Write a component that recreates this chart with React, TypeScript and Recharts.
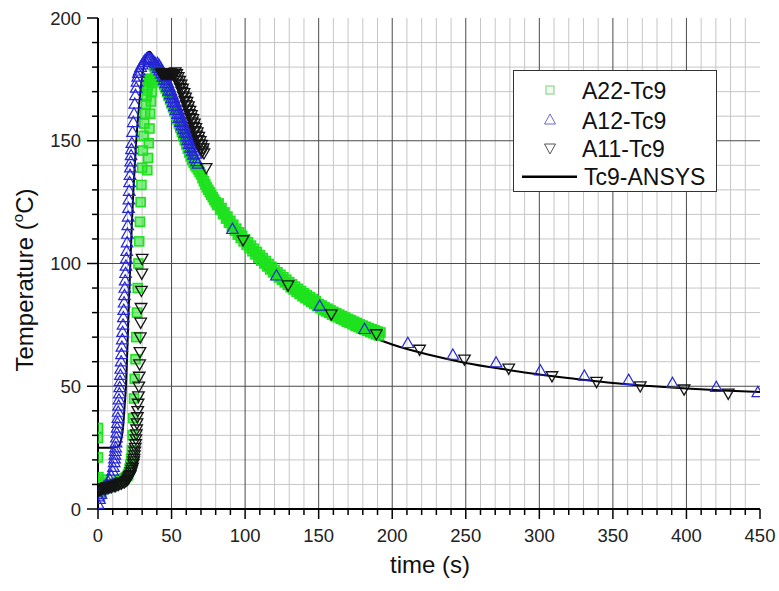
import React from 'react';
import { ComposedChart, XAxis, YAxis, CartesianGrid, Scatter, Line } from 'recharts';

// ---------- tick values ----------
const xTicks = [0, 10, 20, 30, 40, 50, 60, 70, 80, 90, 100, 110, 120, 130, 140, 150, 160, 170, 180, 190, 200, 210, 220, 230, 240, 250, 260, 270, 280, 290, 300, 310, 320, 330, 340, 350, 360, 370, 380, 390, 400, 410, 420, 430, 440, 450];
const yTicks = [0, 10, 20, 30, 40, 50, 60, 70, 80, 90, 100, 110, 120, 130, 140, 150, 160, 170, 180, 190, 200];
const majorX = [50, 100, 150, 200, 250, 300, 350, 400];
const majorY = [50, 100, 150];
const minorX = xTicks.filter((v) => v % 50 !== 0);
const minorY = yTicks.filter((v) => v % 50 !== 0);

// ---------- series: [time (s), temperature (°C)] ----------
const ansys: number[][] = [
  [0, 25], [5, 25], [10, 25], [13, 25.3], [15, 26.5], [16, 29], [17, 33], [18, 41], [19, 50], [20, 66], [21, 84], [22, 100],
  [23, 116], [24, 129], [25, 140], [26, 150], [27, 158], [28, 165], [29, 171], [30, 176], [31, 180], [32, 183], [33, 185],
  [34, 186], [35, 186.3], [36, 185.8], [38, 183.5], [40, 180], [45, 172], [50, 164], [55, 156], [60, 148.5], [65, 141],
  [70, 134.5], [75, 128.5], [80, 123], [90, 114], [100, 106.5], [110, 100], [120, 94], [130, 89], [140, 84.5], [150, 80.5],
  [175, 73], [200, 67], [225, 62.8], [250, 59.5], [275, 57], [300, 54.8], [325, 53], [350, 51.3], [375, 50.1], [400, 49.1],
  [425, 48.3], [450, 47.7],
];

const a22: number[][] = [
  [0, 33], [0, 29], [0, 21], [0.3, 13], [0.6, 8], [1, 11], [1.5, 6], [2, 9], [2.5, 12], [3, 10], [3.5, 8], [4, 10], [5, 9],
  [6, 9.5], [7, 9], [8, 9.5], [9, 9.5], [10, 10], [11, 10], [12, 10.5], [13, 11], [14, 11], [15, 11.5], [16, 12], [17, 12],
  [18, 12.5], [19, 13], [20, 13.5], [20.5, 14], [21, 15], [21.5, 16.5], [22, 18], [22.5, 20.5], [23, 24], [23.5, 30], [24, 37],
  [24.5, 45], [25, 53], [25.5, 61], [26, 70], [26.5, 80], [27, 90], [27.5, 100], [28, 109], [28.5, 117], [29, 125], [29.5, 132],
  [30, 139], [30.5, 146], [31, 152], [31.5, 157], [32, 161], [32.5, 165], [33, 168], [33.5, 170.5], [34, 172.5], [34.5, 174],
  [35, 175], [35.5, 175.3], [36, 175], [36.5, 174.5], [37, 173.5],
  [33.5, 138], [34, 143], [34.5, 149], [35, 155], [35.5, 161], [36, 166], [36.5, 170],
  [38, 180.3], [39, 179.3], [40, 178.3], [41, 177.3], [42, 176.3], [43, 175.2], [44, 174], [45, 172.7], [46, 171.3], [47, 169.8],
  [48, 168.3], [49, 166.8], [50, 165.2], [51, 163.6], [52, 162], [53, 160.4], [54, 158.7], [55, 157], [56, 155.3], [57, 153.6],
  [58, 151.9], [59, 150.2], [60, 148.5], [61, 146.8], [62, 145.2], [63, 143.6], [64, 142.1], [65, 141], [66, 140], [67, 139.2],
  [68, 138.3], [69, 137.3], [70, 136.3], [71, 134.8], [72, 133.5], [73, 132.2], [74, 131], [75, 130], [76, 129], [77, 128],
  [78, 127], [79, 126], [80, 125],
  [81, 123.8], [82, 124.5], [83, 121.9], [84, 122.6], [85, 120.1], [86, 120.8], [87, 118.3], [88, 119.1], [89, 116.6], [90, 117.4],
  [91, 115.0], [92, 115.8], [93, 113.4], [94, 114.2], [95, 111.8], [96, 112.7], [97, 110.4], [98, 111.3], [99, 109.0], [100, 109.9],
  [101, 107.6], [102, 108.6], [103, 106.3], [104, 107.3], [105, 105.0], [106, 106.0], [107, 103.7], [108, 104.7], [109, 102.4], [110, 103.4],
  [111, 101.2], [112, 102.2], [113, 100.0], [114, 101.0], [115, 98.8], [116, 99.8], [117, 97.6], [118, 98.6], [119, 96.4], [120, 97.4],
  [121, 95.3], [122, 96.4], [123, 94.3], [124, 95.4], [125, 93.3], [126, 94.4], [127, 92.3], [128, 93.4], [129, 91.3], [130, 92.4],
  [131, 90.3], [132, 91.5], [133, 89.4], [134, 90.6], [135, 88.5], [136, 89.7], [137, 87.6], [138, 88.8], [139, 86.7], [140, 87.9],
  [141, 85.9], [142, 87.1], [143, 85.1], [144, 86.3], [145, 84.3], [146, 85.5], [147, 83.5], [148, 84.7], [149, 82.7], [150, 83.5],
  [151, 81.8], [152, 82.9], [153, 81.1], [154, 82.2], [155, 80.5], [156, 81.6], [157, 79.9], [158, 81.0], [159, 79.2], [160, 80.3],
  [161, 78.6], [162, 79.7], [163, 78.1], [164, 79.2], [165, 77.5], [166, 78.6], [167, 76.9], [168, 78.0], [169, 76.3], [170, 77.4],
  [171, 75.8], [172, 76.9], [173, 75.2], [174, 76.3], [175, 74.6], [176, 75.8], [177, 74.1], [178, 75.2], [179, 73.6], [180, 74.7],
  [181, 73.1], [182, 74.2], [183, 72.6], [184, 73.7], [185, 72.1], [186, 73.2], [187, 71.6], [188, 72.8], [189, 71.1], [190, 72.3],
  [191, 70.7], [192, 71.9],
];

const a12: number[][] = [
  [0, 2], [0.5, 5], [1, 4], [1.5, 7], [2, 6], [2.5, 8], [3, 8], [4, 9], [5, 9.5], [6, 10], [7, 11], [8, 12], [9, 13.5], [10, 15.5],
  [10.5, 17], [11, 19], [11.25, 20.5], [11.5, 22], [11.75, 23.5], [12, 25], [12.25, 27], [12.5, 29], [12.75, 31], [13, 33],
  [13.25, 35], [13.5, 37], [13.75, 39.5], [14, 42], [14.25, 44.5], [14.5, 47], [14.75, 49.5], [15, 52], [15.25, 54.5], [15.5, 57],
  [15.75, 60], [16, 63], [16.25, 66], [16.5, 69], [16.75, 72], [17, 75], [17.25, 78], [17.5, 81], [17.75, 84], [18, 87],
  [18.25, 90], [18.5, 93], [18.75, 96], [19, 99], [19.25, 102], [19.5, 105], [19.75, 108.5], [20, 112], [20.25, 115.5], [20.5, 119],
  [20.75, 122.5], [21, 126], [21.25, 129.5], [21.5, 133], [21.75, 136], [22, 139], [22.25, 141.5], [22.5, 144], [22.75, 146.5],
  [23, 149], [23.5, 153.5], [24, 157.5], [24.5, 161], [25, 165], [25.5, 168.5], [26, 171.5], [26.5, 174], [27, 176], [27.5, 177.5],
  [28, 178.5], [29, 180], [30, 181], [31, 182], [32, 182.8], [33, 183.4], [34, 183.7], [35, 183.5], [36, 183.3], [37, 182.8],
  [38, 182.2], [39, 181.5], [40, 180.6], [40.5, 181.6], [41, 179.6], [41.5, 180.7], [42, 178.5], [42.5, 179.7], [43, 177.3],
  [43.5, 178.6], [44, 176], [44.5, 177.4], [45, 174.7], [45.5, 176.1], [46, 173.3], [46.5, 174.8], [47, 171.8], [47.5, 173.4],
  [48, 170.3], [48.5, 171.9], [49, 168.8], [49.5, 170.4], [50, 167.2], [50.5, 168.9], [51, 165.6], [51.5, 167.3], [52, 164],
  [52.5, 165.7], [53, 162.4], [53.5, 164.1], [54, 160.8], [54.5, 162.5], [55, 159.2], [55.5, 160.9], [56, 157.6], [56.5, 159.3],
  [57, 156.1], [57.5, 157.8], [58, 154.6], [58.5, 156.3], [59, 153.1], [59.5, 154.8], [60, 151.6], [60.5, 153.3], [61, 150.1],
  [61.5, 151.8], [62, 148.6], [62.5, 150.3], [63, 147.1], [63.5, 148.8], [64, 145.6], [64.5, 147.3], [65, 144.2], [65.5, 145.9],
  [66, 142.8], [66.5, 144.6], [67, 141.6], [68, 140.6],
  [91.4, 114], [121.3, 95], [150.7, 82.7], [181.2, 73.2], [210.6, 67.5], [241.2, 62.7], [270.6, 59.6], [300.7, 56.3],
  [330.6, 54.2], [360.7, 52.5], [390.5, 51.2], [420.3, 49.6], [448.5, 47.5],
];

const a11: number[][] = [
  [0, 8], [0.5, 7.5], [1, 8.5], [1.5, 8], [2, 8], [3, 8.5], [4, 8.5], [5, 8.5], [6, 9], [7, 9], [8, 9], [9, 9], [10, 9.5],
  [11, 9.5], [12, 9.5], [13, 10], [14, 10], [15, 10.5], [16, 10.5], [17, 11], [18, 11], [19, 11.5], [20, 12], [20.5, 12.5],
  [21, 13], [21.5, 13.5], [22, 14], [22.5, 15], [23, 16], [23.5, 17], [24, 18.5], [24.25, 19.5], [24.5, 20.5], [24.75, 22],
  [25, 23.5], [25.25, 25], [25.5, 26.5], [25.75, 28.5], [26, 30.5], [26.25, 32.5], [26.5, 35], [26.75, 37.5], [27, 40],
  [27.25, 43], [27.5, 46], [27.75, 50], [28, 54], [28.25, 59], [28.5, 64], [28.75, 70], [29, 76], [29.25, 82], [29.5, 89],
  [29.75, 96], [30, 102],
  [43, 177.5], [43.5, 177.5], [44, 177.5], [44.5, 177.5], [45, 177.5], [45.5, 177.5], [46, 177.5], [46.5, 177.5],
  [47, 177.5], [47.5, 177.5], [48, 177.5], [48.5, 177.5], [49, 177.5], [49.5, 177.5], [50, 177.4], [50.5, 177.3], [51, 177.2],
  [51.5, 177.1], [52, 177], [52.5, 178], [53, 176], [53.5, 177.2], [54, 174.5], [54.5, 176], [55, 173], [55.5, 174.5],
  [56, 171.5], [56.5, 173], [57, 170], [57.5, 171.3], [58, 168.2], [58.5, 169.5], [59, 166.4], [59.5, 167.7], [60, 164.6],
  [60.5, 165.9], [61, 162.8], [61.5, 164.1], [62, 161], [62.5, 162.3], [63, 159.3], [63.5, 160.6], [64, 157.6], [64.5, 158.9],
  [65, 155.8], [65.5, 157.1], [66, 154], [66.5, 155.3], [67, 152.2], [67.5, 153.5], [68, 150.4], [68.5, 151.7], [69, 148.6],
  [69.5, 150], [70, 147], [70.5, 148.4], [71, 145.8], [71.5, 147], [72, 145], [73.5, 139],
  [98.6, 109.6], [129.2, 91.2], [158.6, 79.4], [189.2, 71.3], [218.6, 65], [249.1, 61], [279.2, 57.3], [308.6, 54.2],
  [338.9, 51.9], [368.6, 50.1], [398.4, 48.8], [428.4, 47.1],
];

const toPts = (arr: number[][]) => arr.map(([t, T]) => ({ t, T }));
const ansysData = toPts(ansys);
const a22Data = toPts(a22);
const a12Data = toPts(a12);
const a11Data = toPts(a11);

const FONT = '"Liberation Sans", Arial, sans-serif';
const GREEN = '#1fe21f';
const BLUE = '#2525d6';
const BLACK = '#141414';

const XTick = (props: any) => {
  const { x, y, payload } = props;
  const v = payload.value;
  const major = v % 50 === 0;
  return (
    <g>
      <line x1={x} x2={x} y1={y} y2={y + (major ? 10 : 6)} stroke="#000" strokeWidth={1.5} />
      {major && (
        <text x={x} y={y + 33} textAnchor="middle" fontSize={18.5} fill="#222" fontFamily={FONT}>
          {v}
        </text>
      )}
    </g>
  );
};

const YTick = (props: any) => {
  const { x, y, payload } = props;
  const v = payload.value;
  const major = v % 50 === 0;
  return (
    <g>
      <line x1={x - (major ? 11 : 6)} x2={x} y1={y} y2={y} stroke="#000" strokeWidth={1.5} />
      {major && (
        <text x={x - 17} y={y + 6.5} textAnchor="end" fontSize={18.5} fill="#222" fontFamily={FONT}>
          {v}
        </text>
      )}
    </g>
  );
};

const SquareShape = (p: any) => (
  <rect x={p.cx - 4.5} y={p.cy - 4.5} width={9} height={9} fill={GREEN} fillOpacity={0.55} stroke={GREEN} strokeWidth={1.6} />
);
const TriUpShape = (p: any) => (
  <path d={`M${p.cx},${p.cy - 6} L${p.cx + 5.8},${p.cy + 4.2} L${p.cx - 5.8},${p.cy + 4.2} Z`} fill="none" stroke={BLUE} strokeWidth={1.2} />
);
const TriDownShape = (p: any) => (
  <path d={`M${p.cx},${p.cy + 6} L${p.cx + 5.8},${p.cy - 4.2} L${p.cx - 5.8},${p.cy - 4.2} Z`} fill="none" stroke={BLACK} strokeWidth={1.3} />
);

export default function App() {
  return (
    <div style={{ position: 'absolute', left: 0, top: 0, width: 779, height: 591, background: '#fff', fontFamily: FONT }}>
      <ComposedChart width={779} height={591} margin={{ top: 18, right: 19, bottom: 0, left: 0 }}>
        <CartesianGrid verticalValues={minorX} horizontalValues={minorY} stroke="#c6c6c6" strokeWidth={1} />
        <CartesianGrid verticalValues={majorX} horizontalValues={majorY} stroke="#4a4a4a" strokeWidth={1} />
        <XAxis
          type="number"
          dataKey="t"
          domain={[0, 450]}
          ticks={xTicks}
          interval={0}
          allowDataOverflow
          height={82}
          tickSize={0}
          tickMargin={0}
          tick={<XTick />}
          axisLine={{ stroke: '#000', strokeWidth: 2 }}
        />
        <YAxis
          type="number"
          dataKey="T"
          domain={[0, 200]}
          ticks={yTicks}
          interval={0}
          allowDataOverflow
          width={98}
          tickSize={0}
          tickMargin={0}
          tick={<YTick />}
          axisLine={{ stroke: '#000', strokeWidth: 2 }}
        />
        <Scatter name="A22-Tc9" data={a22Data} shape={SquareShape} isAnimationActive={false} />
        <Scatter name="A12-Tc9" data={a12Data} shape={TriUpShape} isAnimationActive={false} />
        <Scatter name="A11-Tc9" data={a11Data} shape={TriDownShape} isAnimationActive={false} />
        <Line
          name="Tc9-ANSYS"
          data={ansysData}
          dataKey="T"
          type="monotone"
          stroke="#000"
          strokeWidth={2}
          dot={false}
          activeDot={false}
          isAnimationActive={false}
        />
      </ComposedChart>
      <svg width={779} height={591} style={{ position: 'absolute', left: 0, top: 0, pointerEvents: 'none' }}>
        <text x={430} y={573} textAnchor="middle" fontSize={24} fill="#111" fontFamily={FONT}>
          time (s)
        </text>
        <text transform="translate(33,280) rotate(-90)" textAnchor="middle" fontSize={24} fill="#111" fontFamily={FONT}>
          <tspan>Temperature (</tspan>
          <tspan fontSize={15} dy={-10}>o</tspan>
          <tspan dy={10}>C)</tspan>
        </text>
        <g transform="translate(513,70)">
          <rect x={0.5} y={0.5} width={203} height={121} fill="#fff" stroke="#333" strokeWidth={1} />
          <rect x={33} y={16} width={8} height={8} fill="#eefbee" stroke="#8fd88f" strokeWidth={1.2} />
          <path d="M37,44 L42.5,54 L31.5,54 Z" fill="none" stroke="#6b6bc8" strokeWidth={1} />
          <path d="M37,84 L42.5,74 L31.5,74 Z" fill="none" stroke="#555" strokeWidth={1} />
          <line x1={9} x2={64} y1={106.7} y2={106.7} stroke="#000" strokeWidth={2.5} />
          <text x={69} y={28.5} fontSize={23} fill="#111" fontFamily={FONT}>A22-Tc9</text>
          <text x={69} y={58.5} fontSize={23} fill="#111" fontFamily={FONT}>A12-Tc9</text>
          <text x={69} y={86.8} fontSize={23} fill="#111" fontFamily={FONT}>A11-Tc9</text>
          <text x={71} y={115} fontSize={23} fill="#111" fontFamily={FONT}>Tc9-ANSYS</text>
        </g>
      </svg>
    </div>
  );
}
